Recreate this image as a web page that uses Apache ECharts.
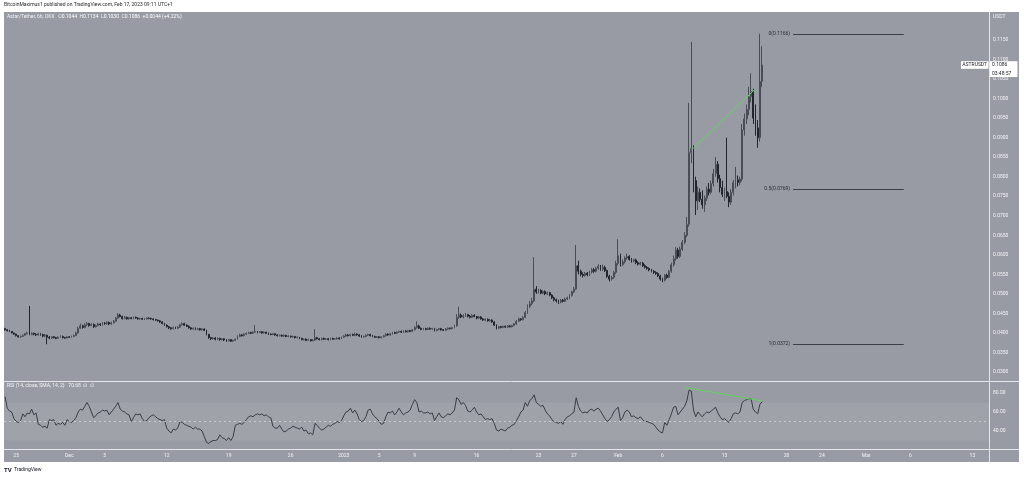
<!DOCTYPE html>
<html>
<head>
<meta charset="utf-8">
<script src="https://cdn.jsdelivr.net/npm/echarts@6/dist/echarts.min.js"></script>
<style>
html,body{margin:0;padding:0;background:#ffffff;}
#chart{width:1024px;height:477px;}
</style>
</head>
<body>
<div id="chart"></div>
<script>
// ---- time slots (6h candles, OKX ASTR/USDT) ----
const startTime = Date.UTC(2022, 10, 23, 18, 0);
const slotCount = 445;

// ---- candle values ----
const opens = [
0.0411,0.0408,0.0406,0.0404,0.0400,0.0397,0.0393,0.0390,0.0391,0.0394,
0.0398,0.0400,0.0396,0.0399,0.0397,0.0395,0.0398,0.0396,0.0392,0.0394,
0.0389,0.0387,0.0390,0.0388,0.0386,0.0389,0.0391,0.0388,0.0387,0.0390,
0.0389,0.0391,0.0393,0.0400,0.0412,0.0418,0.0414,0.0421,0.0424,0.0419,
0.0422,0.0416,0.0419,0.0423,0.0421,0.0425,0.0424,0.0427,0.0423,0.0426,
0.0430,0.0438,0.0446,0.0442,0.0437,0.0440,0.0436,0.0439,0.0437,0.0440,
0.0438,0.0436,0.0437,0.0435,0.0436,0.0438,0.0437,0.0436,0.0434,0.0433,
0.0431,0.0428,0.0424,0.0420,0.0416,0.0413,0.0411,0.0414,0.0412,0.0415,
0.0421,0.0424,0.0420,0.0417,0.0413,0.0410,0.0412,0.0409,0.0411,0.0408,
0.0410,0.0407,0.0396,0.0388,0.0385,0.0387,0.0384,0.0386,0.0383,0.0385,
0.0382,0.0380,0.0383,0.0379,0.0381,0.0384,0.0391,0.0395,0.0393,0.0397,
0.0399,0.0401,0.0399,0.0402,0.0404,0.0401,0.0403,0.0400,0.0402,0.0399,
0.0397,0.0396,0.0398,0.0395,0.0393,0.0394,0.0392,0.0394,0.0391,0.0392,
0.0390,0.0391,0.0388,0.0389,0.0386,0.0383,0.0384,0.0381,0.0383,0.0380,
0.0382,0.0388,0.0385,0.0383,0.0386,0.0384,0.0385,0.0383,0.0386,0.0384,
0.0385,0.0387,0.0385,0.0389,0.0392,0.0395,0.0393,0.0396,0.0394,0.0397,
0.0395,0.0392,0.0390,0.0391,0.0394,0.0396,0.0393,0.0391,0.0389,0.0390,
0.0388,0.0390,0.0393,0.0397,0.0395,0.0398,0.0401,0.0399,0.0402,0.0404,
0.0402,0.0405,0.0403,0.0406,0.0404,0.0408,0.0414,0.0418,0.0412,0.0409,
0.0411,0.0409,0.0412,0.0410,0.0411,0.0406,0.0409,0.0411,0.0408,0.0407,
0.0410,0.0412,0.0411,0.0414,0.0418,0.0440,0.0446,0.0441,0.0444,0.0447,
0.0443,0.0440,0.0445,0.0442,0.0438,0.0441,0.0436,0.0433,0.0435,0.0431,
0.0433,0.0428,0.0420,0.0412,0.0416,0.0414,0.0417,0.0415,0.0418,0.0416,
0.0419,0.0423,0.0430,0.0436,0.0434,0.0440,0.0452,0.0468,0.0475,0.0482,
0.0512,0.0505,0.0509,0.0502,0.0506,0.0500,0.0503,0.0497,0.0490,0.0485,
0.0482,0.0479,0.0484,0.0481,0.0487,0.0490,0.0496,0.0505,0.0512,0.0572,
0.0558,0.0550,0.0547,0.0553,0.0549,0.0556,0.0562,0.0558,0.0566,0.0571,
0.0563,0.0568,0.0560,0.0545,0.0538,0.0542,0.0555,0.0578,0.0598,0.0575,
0.0582,0.0592,0.0596,0.0588,0.0584,0.0587,0.0580,0.0576,0.0579,0.0572,
0.0568,0.0565,0.0561,0.0558,0.0555,0.0552,0.0546,0.0538,0.0535,0.0548,
0.0542,0.0558,0.0575,0.0590,0.0612,0.0596,0.0615,0.0632,0.0650,0.0678,
0.0862,0.0872,0.0790,0.0738,0.0760,0.0742,0.0728,0.0745,0.0768,0.0760,
0.0782,0.0808,0.0832,0.0795,0.0772,0.0755,0.0762,0.0750,0.0735,0.0760,
0.0785,0.0792,0.0785,0.0794,0.0920,0.0948,0.0972,0.1005,0.1018,0.0950,
0.0925,0.0900,0.1044
];
const highs = [
0.0413,0.0410,0.0408,0.0405,0.0401,0.0398,0.0394,0.0393,0.0396,0.0400,
0.0403,0.0469,0.0402,0.0401,0.0399,0.0401,0.0400,0.0398,0.0397,0.0396,
0.0392,0.0392,0.0392,0.0390,0.0391,0.0394,0.0393,0.0390,0.0392,0.0392,
0.0393,0.0396,0.0403,0.0416,0.0424,0.0421,0.0425,0.0428,0.0426,0.0425,
0.0424,0.0421,0.0426,0.0425,0.0428,0.0428,0.0430,0.0429,0.0429,0.0433,
0.0441,0.0451,0.0449,0.0444,0.0443,0.0442,0.0441,0.0441,0.0442,0.0442,
0.0440,0.0439,0.0439,0.0438,0.0440,0.0440,0.0439,0.0437,0.0436,0.0434,
0.0433,0.0430,0.0426,0.0422,0.0418,0.0415,0.0416,0.0416,0.0417,0.0423,
0.0427,0.0426,0.0422,0.0419,0.0415,0.0414,0.0414,0.0413,0.0413,0.0412,
0.0412,0.0408,0.0398,0.0390,0.0389,0.0389,0.0388,0.0388,0.0387,0.0386,
0.0384,0.0385,0.0384,0.0383,0.0386,0.0394,0.0398,0.0397,0.0399,0.0401,
0.0403,0.0403,0.0404,0.0420,0.0405,0.0405,0.0405,0.0404,0.0403,0.0401,
0.0399,0.0400,0.0399,0.0397,0.0396,0.0396,0.0396,0.0395,0.0394,0.0393,
0.0393,0.0392,0.0391,0.0390,0.0388,0.0386,0.0386,0.0385,0.0384,0.0384,
0.0410,0.0390,0.0387,0.0388,0.0388,0.0387,0.0387,0.0388,0.0388,0.0387,
0.0389,0.0389,0.0391,0.0394,0.0398,0.0397,0.0398,0.0398,0.0400,0.0399,
0.0397,0.0394,0.0393,0.0396,0.0398,0.0398,0.0395,0.0393,0.0392,0.0392,
0.0392,0.0395,0.0399,0.0399,0.0400,0.0403,0.0403,0.0404,0.0406,0.0406,
0.0407,0.0407,0.0408,0.0408,0.0410,0.0417,0.0430,0.0421,0.0414,0.0413,
0.0413,0.0414,0.0414,0.0413,0.0413,0.0411,0.0413,0.0413,0.0410,0.0412,
0.0414,0.0414,0.0416,0.0421,0.0448,0.0467,0.0450,0.0448,0.0451,0.0449,
0.0446,0.0448,0.0448,0.0444,0.0443,0.0443,0.0438,0.0437,0.0437,0.0436,
0.0435,0.0430,0.0422,0.0418,0.0418,0.0419,0.0419,0.0420,0.0420,0.0421,
0.0425,0.0433,0.0439,0.0438,0.0443,0.0456,0.0473,0.0482,0.0490,0.0594,
0.0520,0.0513,0.0512,0.0509,0.0509,0.0506,0.0505,0.0499,0.0493,0.0488,
0.0485,0.0487,0.0487,0.0490,0.0493,0.0499,0.0508,0.0518,0.0625,0.0585,
0.0562,0.0555,0.0556,0.0556,0.0559,0.0566,0.0566,0.0569,0.0576,0.0574,
0.0575,0.0572,0.0562,0.0549,0.0546,0.0559,0.0585,0.0640,0.0603,0.0588,
0.0596,0.0603,0.0599,0.0592,0.0590,0.0590,0.0584,0.0582,0.0582,0.0576,
0.0571,0.0568,0.0564,0.0561,0.0558,0.0555,0.0549,0.0541,0.0551,0.0552,
0.0561,0.0580,0.0598,0.0620,0.0618,0.0621,0.0638,0.0658,0.0697,0.0989,
0.1145,0.0880,0.0800,0.0775,0.0770,0.0765,0.0752,0.0775,0.0784,0.0790,
0.0820,0.0850,0.0840,0.0805,0.0790,0.0772,0.0900,0.0760,0.0768,0.0792,
0.0825,0.0803,0.0800,0.0935,0.0962,0.0985,0.1030,0.1065,0.1025,0.0985,
0.0945,0.1166,0.1134
];
const lows = [
0.0406,0.0404,0.0402,0.0399,0.0395,0.0391,0.0388,0.0388,0.0390,0.0393,
0.0396,0.0394,0.0394,0.0394,0.0392,0.0393,0.0393,0.0389,0.0389,0.0371,
0.0384,0.0385,0.0386,0.0384,0.0385,0.0388,0.0386,0.0385,0.0386,0.0387,
0.0388,0.0389,0.0392,0.0398,0.0410,0.0411,0.0412,0.0418,0.0416,0.0417,
0.0413,0.0414,0.0417,0.0418,0.0419,0.0421,0.0421,0.0420,0.0421,0.0424,
0.0428,0.0436,0.0440,0.0434,0.0435,0.0434,0.0434,0.0435,0.0435,0.0436,
0.0434,0.0434,0.0433,0.0433,0.0434,0.0435,0.0434,0.0432,0.0431,0.0429,
0.0426,0.0422,0.0418,0.0414,0.0410,0.0408,0.0409,0.0410,0.0410,0.0413,
0.0419,0.0418,0.0415,0.0411,0.0408,0.0408,0.0407,0.0407,0.0406,0.0406,
0.0405,0.0394,0.0385,0.0382,0.0383,0.0381,0.0382,0.0380,0.0381,0.0379,
0.0377,0.0378,0.0377,0.0377,0.0379,0.0383,0.0389,0.0391,0.0391,0.0395,
0.0397,0.0397,0.0398,0.0400,0.0399,0.0400,0.0398,0.0398,0.0397,0.0395,
0.0394,0.0394,0.0393,0.0391,0.0391,0.0390,0.0390,0.0389,0.0389,0.0388,
0.0388,0.0386,0.0386,0.0384,0.0381,0.0381,0.0379,0.0380,0.0378,0.0379,
0.0380,0.0383,0.0381,0.0381,0.0382,0.0382,0.0381,0.0381,0.0382,0.0383,
0.0383,0.0383,0.0384,0.0387,0.0390,0.0391,0.0391,0.0392,0.0392,0.0393,
0.0390,0.0388,0.0388,0.0389,0.0392,0.0391,0.0389,0.0387,0.0387,0.0386,
0.0386,0.0388,0.0391,0.0393,0.0393,0.0396,0.0397,0.0397,0.0400,0.0400,
0.0400,0.0401,0.0401,0.0402,0.0402,0.0406,0.0411,0.0410,0.0407,0.0407,
0.0407,0.0407,0.0408,0.0408,0.0404,0.0404,0.0407,0.0406,0.0405,0.0405,
0.0408,0.0409,0.0409,0.0412,0.0416,0.0436,0.0438,0.0438,0.0441,0.0440,
0.0437,0.0438,0.0440,0.0435,0.0436,0.0434,0.0431,0.0430,0.0429,0.0429,
0.0426,0.0418,0.0409,0.0410,0.0412,0.0412,0.0413,0.0413,0.0414,0.0414,
0.0417,0.0421,0.0428,0.0431,0.0432,0.0438,0.0449,0.0464,0.0471,0.0479,
0.0500,0.0501,0.0499,0.0499,0.0497,0.0497,0.0494,0.0487,0.0481,0.0478,
0.0474,0.0476,0.0478,0.0479,0.0484,0.0487,0.0493,0.0502,0.0510,0.0550,
0.0545,0.0542,0.0544,0.0545,0.0546,0.0552,0.0554,0.0555,0.0562,0.0559,
0.0559,0.0556,0.0541,0.0532,0.0534,0.0539,0.0551,0.0573,0.0570,0.0571,
0.0578,0.0588,0.0585,0.0580,0.0581,0.0576,0.0573,0.0573,0.0569,0.0565,
0.0562,0.0558,0.0555,0.0551,0.0549,0.0543,0.0534,0.0530,0.0532,0.0539,
0.0540,0.0554,0.0570,0.0585,0.0590,0.0592,0.0610,0.0627,0.0645,0.0672,
0.0835,0.0760,0.0702,0.0715,0.0735,0.0718,0.0710,0.0738,0.0752,0.0755,
0.0775,0.0800,0.0785,0.0760,0.0748,0.0738,0.0745,0.0722,0.0728,0.0752,
0.0770,0.0775,0.0778,0.0788,0.0905,0.0935,0.0958,0.0990,0.0935,0.0905,
0.0874,0.0890,0.1030
];
const closes = [
0.0408,0.0406,0.0404,0.0400,0.0397,0.0393,0.0390,0.0391,0.0394,0.0398,
0.0400,0.0396,0.0399,0.0397,0.0395,0.0398,0.0396,0.0392,0.0394,0.0389,
0.0387,0.0390,0.0388,0.0386,0.0389,0.0391,0.0388,0.0387,0.0390,0.0389,
0.0391,0.0393,0.0400,0.0412,0.0418,0.0414,0.0421,0.0424,0.0419,0.0422,
0.0416,0.0419,0.0423,0.0421,0.0425,0.0424,0.0427,0.0423,0.0426,0.0430,
0.0438,0.0446,0.0442,0.0437,0.0440,0.0436,0.0439,0.0437,0.0440,0.0438,
0.0436,0.0437,0.0435,0.0436,0.0438,0.0437,0.0436,0.0434,0.0433,0.0431,
0.0428,0.0424,0.0420,0.0416,0.0413,0.0411,0.0414,0.0412,0.0415,0.0421,
0.0424,0.0420,0.0417,0.0413,0.0410,0.0412,0.0409,0.0411,0.0408,0.0410,
0.0407,0.0396,0.0388,0.0385,0.0387,0.0384,0.0386,0.0383,0.0385,0.0382,
0.0380,0.0383,0.0379,0.0381,0.0384,0.0391,0.0395,0.0393,0.0397,0.0399,
0.0401,0.0399,0.0402,0.0404,0.0401,0.0403,0.0400,0.0402,0.0399,0.0397,
0.0396,0.0398,0.0395,0.0393,0.0394,0.0392,0.0394,0.0391,0.0392,0.0390,
0.0391,0.0388,0.0389,0.0386,0.0383,0.0384,0.0381,0.0383,0.0380,0.0382,
0.0388,0.0385,0.0383,0.0386,0.0384,0.0385,0.0383,0.0386,0.0384,0.0385,
0.0387,0.0385,0.0389,0.0392,0.0395,0.0393,0.0396,0.0394,0.0397,0.0395,
0.0392,0.0390,0.0391,0.0394,0.0396,0.0393,0.0391,0.0389,0.0390,0.0388,
0.0390,0.0393,0.0397,0.0395,0.0398,0.0401,0.0399,0.0402,0.0404,0.0402,
0.0405,0.0403,0.0406,0.0404,0.0408,0.0414,0.0418,0.0412,0.0409,0.0411,
0.0409,0.0412,0.0410,0.0411,0.0406,0.0409,0.0411,0.0408,0.0407,0.0410,
0.0412,0.0411,0.0414,0.0418,0.0440,0.0446,0.0441,0.0444,0.0447,0.0443,
0.0440,0.0445,0.0442,0.0438,0.0441,0.0436,0.0433,0.0435,0.0431,0.0433,
0.0428,0.0420,0.0412,0.0416,0.0414,0.0417,0.0415,0.0418,0.0416,0.0419,
0.0423,0.0430,0.0436,0.0434,0.0440,0.0452,0.0468,0.0475,0.0482,0.0512,
0.0505,0.0509,0.0502,0.0506,0.0500,0.0503,0.0497,0.0490,0.0485,0.0482,
0.0479,0.0484,0.0481,0.0487,0.0490,0.0496,0.0505,0.0512,0.0572,0.0558,
0.0550,0.0547,0.0553,0.0549,0.0556,0.0562,0.0558,0.0566,0.0571,0.0563,
0.0568,0.0560,0.0545,0.0538,0.0542,0.0555,0.0578,0.0598,0.0575,0.0582,
0.0592,0.0596,0.0588,0.0584,0.0587,0.0580,0.0576,0.0579,0.0572,0.0568,
0.0565,0.0561,0.0558,0.0555,0.0552,0.0546,0.0538,0.0535,0.0548,0.0542,
0.0558,0.0575,0.0590,0.0612,0.0596,0.0615,0.0632,0.0650,0.0678,0.0862,
0.0872,0.0790,0.0738,0.0760,0.0742,0.0728,0.0745,0.0768,0.0760,0.0782,
0.0808,0.0832,0.0795,0.0772,0.0755,0.0762,0.0750,0.0735,0.0760,0.0785,
0.0792,0.0785,0.0794,0.0920,0.0948,0.0972,0.1005,0.1018,0.0950,0.0925,
0.0900,0.1044,0.1086
];

// ---- RSI (14) values ----
const rsiValues = [
76,64,61,60,53,50,49,51,58,55,
59,58,63,57,59,47,46,44,45,43,
52,51,52,46,48,47,49,46,52,50,
49,51,54,60,63,62,66,70,66,60,
54,56,59,60,62,61,62,57,60,63,
66,70,63,61,60,58,57,50,54,58,
57,58,53,50,51,54,56,57,55,53,
52,51,52,43,40,38,42,41,43,50,
49,47,46,45,44,42,44,42,42,40,
34,28,27,29,30,30,31,36,33,32,
30,33,30,34,46,47,48,47,49,52,
55,56,55,57,58,57,58,56,57,55,
54,45,43,43,46,42,39,40,42,43,
45,44,43,42,44,40,41,37,38,36,
48,46,43,41,42,44,46,45,47,48,
50,49,51,56,60,61,64,59,62,58,
52,50,51,55,62,63,58,55,53,50,
47,48,55,60,59,61,57,60,64,60,
57,59,60,62,68,73,70,60,61,59,
59,60,58,59,51,55,59,55,54,56,
58,57,59,62,75,73,68,70,67,61,
60,62,65,60,57,58,55,52,53,52,
53,48,41,40,42,41,40,43,44,46,
47,51,55,60,62,70,66,72,74,78,
70,68,66,67,62,58,56,52,50,49,
48,50,47,52,55,56,58,60,75,66,
61,59,60,59,62,63,61,63,64,61,
57,53,50,52,55,60,63,65,51,54,
60,62,60,55,56,54,53,55,52,50,
50,49,48,47,44,41,39,38,49,46,
52,58,65,66,57,60,63,66,72,83,
82,62,55,60,57,55,58,60,59,61,
63,65,59,55,52,53,51,49,53,58,
59,58,60,70,72,73,74,74,63,60,
58,68,70.68
];

// ---- axis ticks ----
const priceAxisMin = 0.025, priceAxisMax = 0.125, priceAxisStep = 0.005;
const priceLabelRange = [0.029, 0.1175];
const rsiAxisMin = 20, rsiAxisMax = 100, rsiAxisStep = 20;
const rsiLabelValues = [40, 60, 80];
const tickDates = ['2022-11-25','2022-12-01','2022-12-05','2022-12-12','2022-12-19','2022-12-26',
  '2023-01-01','2023-01-05','2023-01-09','2023-01-16','2023-01-23','2023-01-27',
  '2023-02-01','2023-02-06','2023-02-13','2023-02-20','2023-02-24','2023-03-01','2023-03-06','2023-03-13'];
const tickLabels = ['25','Dec','5','12','19','26','2023','5','9','16','23','27','Feb','6','13','20','24','Mar','6','13'];

// ---- drawings ----
const fibLevels = [ {ratio: '0', price: 0.1166}, {ratio: '0.5', price: 0.0769}, {ratio: '1', price: 0.0372} ];
const fibSpan = ['2023-02-20 18:00', '2023-03-05 06:00'];
const priceTrend = [['2023-02-09 06:00', 0.0868], ['2023-02-16 12:00', 0.1025]];
const rsiTrend = [['2023-02-08 12:00', 86], ['2023-02-17 06:00', 71.6]];
const rsiMidline = 50, rsiBand = [30, 70];
const lastPrice = { symbol: 'ASTRUSDT', price: 0.1086, countdown: '03:48:57' };
const ohlcLegend = { name: 'Astar/Tether, 6h, OKX', o: '0.1044', h: '0.1134', l: '0.1030', c: '0.1086', chg: '+0.0044 (+4.22%)' };

// ---- build ----
const SLOT_MS = 6 * 3600 * 1000;
const categories = [];
for (let i = 0; i < slotCount; i++) {
  categories.push(new Date(startTime + i * SLOT_MS).toISOString().slice(0, 16).replace('T', ' '));
}
const candleData = opens.map((o, i) => [o, closes[i], lows[i], highs[i]]);

const BG = '#989ba3';
const TXT = '#f2f3f5';
const DARK = '#22252d';
const FONT = 'Roboto, "Liberation Sans", sans-serif';

const chart = echarts.init(document.getElementById('chart'), null, { renderer: 'canvas' });

const fibMark = [];
fibLevels.forEach(f => {
  fibMark.push([
    { coord: [fibSpan[0], f.price], label: { show: true, position: 'start', formatter: f.ratio + '(' + f.price.toFixed(4) + ')', color: '#2a2d35', fontSize: 5, fontFamily: FONT, distance: 3 } },
    { coord: [fibSpan[1], f.price] }
  ]);
});

const option = {
  animation: false,
  backgroundColor: '#ffffff',
  grid: [
    { left: 4, right: 35, top: 0.94, height: 390.6 },
    { left: 4, right: 35, top: 374, height: 76 }
  ],
  xAxis: [
    { type: 'category', gridIndex: 0, data: categories, boundaryGap: true,
      axisLine: { show: false }, axisTick: { show: false }, axisLabel: { show: false }, splitLine: { show: false } },
    { type: 'category', gridIndex: 1, data: categories, boundaryGap: true,
      axisLine: { show: false }, axisTick: { show: false }, splitLine: { show: false },
      axisLabel: {
        show: true, color: TXT, fontSize: 5, fontFamily: FONT, margin: 3,
        interval: (idx, val) => val.endsWith('00:00') && tickDates.indexOf(val.slice(0, 10)) >= 0,
        formatter: val => { const k = tickDates.indexOf(val.slice(0, 10)); return k >= 0 ? tickLabels[k] : ''; }
      } }
  ],
  yAxis: [
    { type: 'value', gridIndex: 0, position: 'right', min: priceAxisMin, max: priceAxisMax, interval: priceAxisStep,
      axisLine: { show: false }, axisTick: { show: false }, splitLine: { show: false },
      axisLabel: { color: TXT, fontSize: 5, fontFamily: FONT, margin: 4,
        formatter: v => (v < priceLabelRange[0] || v > priceLabelRange[1]) ? '' : v.toFixed(4) } },
    { type: 'value', gridIndex: 1, position: 'right', min: rsiAxisMin, max: rsiAxisMax, interval: rsiAxisStep,
      axisLine: { show: false }, axisTick: { show: false }, splitLine: { show: false },
      axisLabel: { color: TXT, fontSize: 5, fontFamily: FONT, margin: 4,
        formatter: v => rsiLabelValues.indexOf(Math.round(v)) >= 0 ? v.toFixed(2) : '' } }
  ],
  series: [
    { type: 'candlestick', xAxisIndex: 0, yAxisIndex: 0, data: candleData, barWidth: '62%',
      itemStyle: { color: '#c3c6cc', color0: DARK, borderColor: '#4a4d55', borderColor0: DARK, borderWidth: 1 },
      markLine: {
        silent: true, symbol: ['none', 'none'], animation: false,
        lineStyle: { color: '#3c3f47', width: 1, type: 'solid' },
        label: { show: false },
        data: fibMark.concat([[
          { coord: priceTrend[0], lineStyle: { color: '#5fd45f', width: 1 }, label: { show: false } },
          { coord: priceTrend[1] }
        ]])
      }
    },
    { type: 'line', xAxisIndex: 1, yAxisIndex: 1, data: rsiValues, showSymbol: false, symbol: 'none',
      lineStyle: { color: '#3a3d45', width: 1 },
      markArea: { silent: true, itemStyle: { color: 'rgba(255,255,255,0.075)' }, data: [[{ yAxis: rsiBand[0] }, { yAxis: rsiBand[1] }]] },
      markLine: {
        silent: true, symbol: ['none', 'none'], animation: false, label: { show: false },
        data: [
          { yAxis: rsiMidline, lineStyle: { color: 'rgba(235,237,241,0.55)', width: 1, type: [2, 3] } },
          [ { coord: rsiTrend[0], lineStyle: { color: '#5fd45f', width: 1, type: 'solid' } }, { coord: rsiTrend[1] } ]
        ]
      }
    }
  ]
};
chart.setOption(option);

// overlay texts / frame; price marker y taken from the library's own scale
const py = chart.convertToPixel({ yAxisIndex: 0 }, lastPrice.price);
const graphics = [
  { type: 'rect', z: -10, silent: true, shape: { x: 4, y: 12, width: 1015, height: 450 }, style: { fill: BG } },
  { type: 'line', z: 50, silent: true, shape: { x1: 989.5, y1: 12, x2: 989.5, y2: 462 }, style: { stroke: '#e4e6ea', lineWidth: 1 } },
  { type: 'line', z: 50, silent: true, shape: { x1: 4, y1: 381.5, x2: 1019, y2: 381.5 }, style: { stroke: '#e4e6ea', lineWidth: 1 } },
  { type: 'line', z: 50, silent: true, shape: { x1: 4, y1: 449.5, x2: 1019, y2: 449.5 }, style: { stroke: '#e4e6ea', lineWidth: 1 } },
  { type: 'text', z: 60, silent: true, style: { x: 4, y: 5, text: 'BitcoinMaximus1 published on TradingView.com, Feb 17, 2023 09:11 UTC+1', fill: '#2b2b2b', font: '5px ' + FONT, textVerticalAlign: 'middle' } },
  { type: 'text', z: 60, silent: true, style: { x: 7, y: 17, rich: {
      a: { fill: TXT, fontSize: 5, fontFamily: FONT },
      b: { fill: '#ffffff', fontSize: 5, fontFamily: FONT }
    }, text: '{a|' + ohlcLegend.name + '   O}{b|' + ohlcLegend.o + '}{a|  H}{b|' + ohlcLegend.h + '}{a|  L}{b|' + ohlcLegend.l + '}{a|  C}{b|' + ohlcLegend.c + '  ' + ohlcLegend.chg + '}', textVerticalAlign: 'middle' } },
  { type: 'text', z: 60, silent: true, style: { x: 7, y: 386, text: 'RSI (14, close, SMA, 14, 2)   ' + rsiValues[rsiValues.length - 1].toFixed(2) + '  \u2205  \u2205', fill: TXT, font: '5px ' + FONT, textVerticalAlign: 'middle' } },
  { type: 'text', z: 60, silent: true, style: { x: 993, y: 17, text: 'USDT', fill: TXT, font: '5px ' + FONT, textVerticalAlign: 'middle' } },
  { type: 'text', z: 60, silent: true, style: { x: 4, y: 470, text: 'TV', fill: '#131722', font: 'bold 6px ' + FONT, textVerticalAlign: 'middle' } },
  { type: 'text', z: 60, silent: true, style: { x: 14, y: 470, text: 'TradingView', fill: '#131722', font: '5px ' + FONT, textVerticalAlign: 'middle' } },
  // last price markers
  { type: 'rect', z: 70, silent: true, shape: { x: 961, y: py - 3.8, width: 27.5, height: 7.6 }, style: { fill: '#ffffff' } },
  { type: 'text', z: 71, silent: true, style: { x: 974.7, y: py, text: lastPrice.symbol, fill: '#1c1f26', font: '5px ' + FONT, textAlign: 'center', textVerticalAlign: 'middle' } },
  { type: 'rect', z: 70, silent: true, shape: { x: 990, y: py - 3.8, width: 27.5, height: 15.8 }, style: { fill: '#ffffff' } },
  { type: 'text', z: 71, silent: true, style: { x: 992, y: py, text: lastPrice.price.toFixed(4), fill: '#1c1f26', font: '5px ' + FONT, textVerticalAlign: 'middle' } },
  { type: 'text', z: 71, silent: true, style: { x: 992, y: py + 8.5, text: lastPrice.countdown, fill: '#1c1f26', font: '5px ' + FONT, textVerticalAlign: 'middle' } }
];
chart.setOption({ graphic: graphics });
</script>
</body>
</html>
